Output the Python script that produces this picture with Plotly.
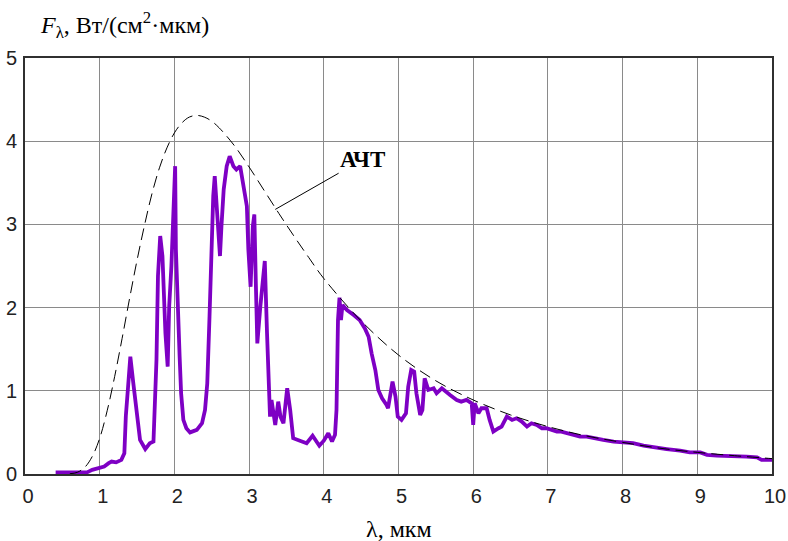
import plotly.graph_objects as go

# Measured spectrum (purple)
lam_meas = [0.41, 0.83, 0.90, 1.00, 1.06, 1.12, 1.16, 1.22, 1.29, 1.33, 1.35, 1.38, 1.41, 1.45, 1.50,
            1.54, 1.61, 1.67, 1.72, 1.74, 1.76, 1.78, 1.81, 1.84, 1.86, 1.88, 1.91, 1.93, 1.96, 1.99,
            2.01, 2.02, 2.04, 2.07, 2.09, 2.12, 2.16, 2.21, 2.30, 2.37, 2.41, 2.44, 2.47, 2.49, 2.50,
            2.52, 2.54, 2.57, 2.61, 2.63, 2.66, 2.70, 2.74, 2.79, 2.83, 2.88, 2.92, 2.97, 2.99, 3.02,
            3.05, 3.07, 3.09, 3.11, 3.15, 3.21, 3.24, 3.26, 3.28, 3.30, 3.35, 3.39, 3.42, 3.46, 3.51,
            3.55, 3.59, 3.68, 3.77, 3.85, 3.94, 4.00, 4.06, 4.11, 4.15, 4.17, 4.18, 4.19, 4.21, 4.23,
            4.25, 4.31, 4.40, 4.48, 4.55, 4.60, 4.64, 4.69, 4.73, 4.78, 4.84, 4.86, 4.92, 4.96, 4.99,
            5.04, 5.10, 5.13, 5.17, 5.21, 5.24, 5.29, 5.32, 5.35, 5.40, 5.47, 5.51, 5.58, 5.69, 5.78,
            5.84, 5.91, 5.98, 6.00, 6.02, 6.07, 6.11, 6.18, 6.22, 6.27, 6.34, 6.38, 6.45, 6.52, 6.58,
            6.65, 6.72, 6.78, 6.85, 6.92, 6.98, 7.05, 7.12, 7.18, 7.25, 7.34, 7.43, 7.52, 7.61, 7.74,
            7.88, 8.01, 8.14, 8.28, 8.41, 8.59, 8.77, 8.90, 9.04, 9.13, 9.26, 9.48, 9.66, 9.80, 9.86,
            10.0]
F_meas = [0.02, 0.02, 0.05, 0.07, 0.09, 0.13, 0.15, 0.14, 0.17, 0.25, 0.70, 1.05, 1.41, 1.09, 0.69,
          0.41, 0.30, 0.37, 0.39, 0.85, 1.37, 2.38, 2.86, 2.62, 2.13, 1.69, 1.29, 2.01, 2.50, 3.30,
          3.70, 2.70, 2.01, 1.41, 0.97, 0.65, 0.55, 0.50, 0.53, 0.61, 0.77, 1.09, 1.89, 2.50, 2.98,
          3.34, 3.58, 3.18, 2.62, 2.98, 3.42, 3.70, 3.82, 3.70, 3.66, 3.70, 3.50, 3.22, 2.70, 2.25,
          2.98, 3.12, 2.30, 1.57, 2.01, 2.56, 1.69, 1.01, 0.69, 0.89, 0.59, 0.87, 0.69, 0.61, 1.03,
          0.77, 0.43, 0.40, 0.37, 0.46, 0.34, 0.40, 0.49, 0.39, 0.47, 0.77, 1.29, 1.85, 2.12, 1.85,
          2.03, 1.97, 1.91, 1.85, 1.75, 1.65, 1.45, 1.25, 1.01, 0.91, 0.83, 0.79, 1.11, 0.93, 0.69,
          0.65, 0.73, 1.05, 1.25, 1.23, 0.97, 0.71, 0.77, 1.15, 1.01, 1.03, 0.97, 1.03, 0.95, 0.89,
          0.87, 0.89, 0.85, 0.59, 0.85, 0.73, 0.79, 0.79, 0.65, 0.51, 0.55, 0.57, 0.69, 0.65, 0.67,
          0.63, 0.57, 0.61, 0.59, 0.55, 0.55, 0.53, 0.51, 0.51, 0.49, 0.47, 0.45, 0.45, 0.43, 0.41,
          0.39, 0.38, 0.37, 0.34, 0.32, 0.30, 0.28, 0.26, 0.26, 0.23, 0.22, 0.22, 0.21, 0.20, 0.17,
          0.17]

# Blackbody (АЧТ) dashed curve
lam_bb = [0.6, 0.7, 0.8, 0.9, 1.0, 1.1, 1.2, 1.3, 1.4, 1.5, 1.6, 1.7, 1.8, 1.9, 2.0, 2.1, 2.2, 2.3,
          2.4, 2.5, 2.6, 2.8, 3.0, 3.2, 3.4, 3.6, 3.8, 4.0, 4.5, 5.0, 5.5, 6.0, 6.5, 7.0, 7.5, 8.0,
          8.5, 9.0, 9.5, 10.0]
F_bb = [0.003, 0.02, 0.08, 0.21, 0.43, 0.76, 1.17, 1.63, 2.11, 2.57, 2.99, 3.37, 3.68, 3.92, 4.10,
        4.22, 4.29, 4.31, 4.29, 4.24, 4.16, 3.95, 3.69, 3.41, 3.13, 2.86, 2.60, 2.35, 1.84, 1.43,
        1.12, 0.89, 0.71, 0.57, 0.46, 0.38, 0.31, 0.26, 0.22, 0.185]

x_ticks = [0, 1, 2, 3, 4, 5, 6, 7, 8, 9, 10]
y_ticks = [0, 1, 2, 3, 4, 5]

fig = go.Figure()
fig.add_trace(go.Scatter(x=lam_meas, y=F_meas, mode="lines",
                         line=dict(color="#7E00C4", width=3.8), showlegend=False))
fig.add_trace(go.Scatter(x=lam_bb, y=F_bb, mode="lines", line_shape="spline",
                         line=dict(color="black", width=1, dash="12px,6px"), showlegend=False))

tickfont = dict(family="Liberation Sans Narrow, Arial Narrow, Liberation Sans, Arial", size=20, color="#222")
fig.update_xaxes(range=[0, 10], tickvals=x_ticks, showgrid=True, gridcolor="#8a8a8a", gridwidth=1,
                 showline=True, linecolor="#303030", linewidth=2, mirror=True, zeroline=False,
                 ticks="", tickfont=tickfont, ticklabelshift=3, ticklabelstandoff=3,
                 automargin=False, ticklabeloverflow="allow")
fig.update_yaxes(range=[0, 5], tickvals=y_ticks, showgrid=True, gridcolor="#8a8a8a", gridwidth=1,
                 showline=True, linecolor="#303030", linewidth=2, mirror=True, zeroline=False,
                 ticks="", tickfont=tickfont, ticklabelstandoff=2, automargin=False,
                 ticklabeloverflow="allow")

serif = "Liberation Serif, Times New Roman, serif"
fig.add_annotation(x=0, y=1, xref="paper", yref="paper", xanchor="left", yanchor="bottom",
                   xshift=13, yshift=14, showarrow=False,
                   text="<i>F</i><sub>λ</sub>, Вт/(см<sup>2</sup>·мкм)",
                   font=dict(family=serif, size=24, color="black"))
fig.add_annotation(x=0.5, y=0, xref="paper", yref="paper", xanchor="center", yanchor="top",
                   yshift=-40, showarrow=False, text="λ, мкм",
                   font=dict(family=serif, size=24, color="black"))
fig.add_annotation(x=3.35, y=3.18, ax=4.52, ay=3.78, xref="x", yref="y", axref="x", ayref="y",
                   text="<b>АЧТ</b>", showarrow=True, arrowhead=0, arrowwidth=1, arrowcolor="black",
                   font=dict(family=serif, size=23, color="black"))

fig.update_layout(width=788, height=541, margin=dict(l=25, r=16, t=58, b=67),
                  paper_bgcolor="white", plot_bgcolor="white")
fig.write_html("out.html")
